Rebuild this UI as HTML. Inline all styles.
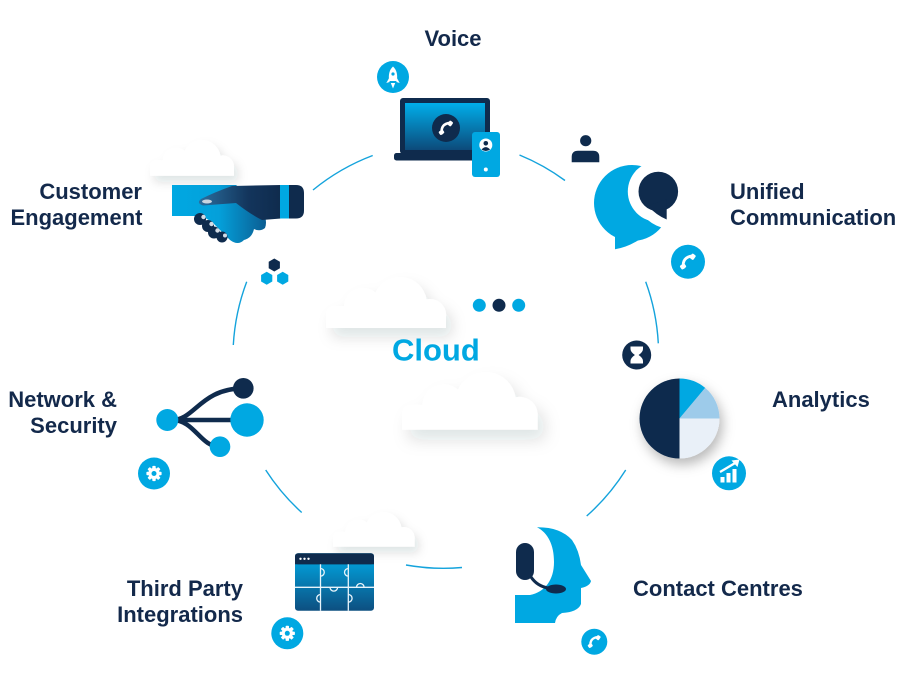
<!DOCTYPE html>
<html><head><meta charset="utf-8"><style>
html,body{margin:0;padding:0;background:#fff;}
svg{display:block;}
text{font-family:"Liberation Sans",Arial,sans-serif;font-weight:bold;}
</style></head><body>
<svg width="900" height="682" viewBox="0 0 900 682" xmlns="http://www.w3.org/2000/svg">
<defs>
 <filter id="sh" x="-40%" y="-40%" width="200%" height="220%"><feDropShadow dx="6" dy="9" stdDeviation="7" flood-color="#1a2a3a" flood-opacity="0.13"/></filter>
 <filter id="sh2" x="-40%" y="-40%" width="200%" height="200%"><feDropShadow dx="3" dy="6" stdDeviation="6" flood-color="#000" flood-opacity="0.28"/></filter>
 <linearGradient id="gScreen" x1="0" y1="0" x2="0" y2="1"><stop offset="0" stop-color="#00aeea"/><stop offset="1" stop-color="#0c4a7a"/></linearGradient>
 <linearGradient id="gPuz" x1="0" y1="0" x2="0" y2="1"><stop offset="0" stop-color="#00aae6"/><stop offset="1" stop-color="#0d4f80"/></linearGradient>
 <linearGradient id="gHandB" x1="0" y1="0" x2="1" y2="0"><stop offset="0" stop-color="#00a8e2"/><stop offset="0.5" stop-color="#04a0da"/><stop offset="1" stop-color="#0b5d92"/></linearGradient>
 <linearGradient id="gHandD" x1="0" y1="0" x2="1" y2="0"><stop offset="0" stop-color="#2a6e9e"/><stop offset="0.6" stop-color="#13355c"/><stop offset="1" stop-color="#0f2b4d"/></linearGradient>
 <path id="cloud" d="M0,51 L0,38 Q0,29 9,29 L18,29 A19,19 0 0 1 49.5,15.6 A27,27 0 0 1 100.6,22.4 A16,16 0 0 1 120,39.5 L120,51 Z"/>
 <g id="phone"><path d="M4,-5.2 Q-5.5,-4 -4.2,5.2" fill="none" stroke="#fff" stroke-width="2.6" stroke-linecap="round"/><rect x="2.2" y="-7" width="4.2" height="5" rx="1.2" fill="#fff" transform="rotate(35 4.3 -4.5)"/><rect x="-7" y="2.2" width="5" height="4.2" rx="1.2" fill="#fff" transform="rotate(-35 -4.5 4.3)"/></g>
 <g id="gear"><circle r="5.6" fill="#fff"/><rect x="-1.7" y="-7.6" width="3.4" height="15.2" rx="0.8" fill="#fff"/><rect x="-1.7" y="-7.6" width="3.4" height="15.2" rx="0.8" fill="#fff" transform="rotate(45)"/><rect x="-1.7" y="-7.6" width="3.4" height="15.2" rx="0.8" fill="#fff" transform="rotate(90)"/><rect x="-1.7" y="-7.6" width="3.4" height="15.2" rx="0.8" fill="#fff" transform="rotate(135)"/><circle r="2.5" fill="#00a8e2"/></g>
</defs>

<!-- ring arcs -->
<g fill="none" stroke="#14a3dc" stroke-width="1.4">
 <path d="M233.3,345 A212.5,212.5 0 0 1 246.7,281.7"/>
 <path d="M313,190 A212.5,212.5 0 0 1 372.7,155.5"/>
 <path d="M519.5,155 A212.5,212.5 0 0 1 565,180.5"/>
 <path d="M645.7,281.7 A212.5,212.5 0 0 1 658.3,343.3"/>
 <path d="M625.7,470 A212.5,212.5 0 0 1 586.7,516"/>
 <path d="M462,567.5 A212.5,212.5 0 0 1 406,565"/>
 <path d="M301.7,512.5 A212.5,212.5 0 0 1 265.7,470"/>
</g>

<!-- clouds -->
<g fill="#fff">
 <use href="#cloud" transform="translate(326,277)" filter="url(#sh)"/>
 <use href="#cloud" transform="translate(402,372) scale(1.13)" filter="url(#sh)"/>
 <use href="#cloud" transform="translate(150,140) scale(0.7)" filter="url(#sh)"/>
 <use href="#cloud" transform="translate(333,512) scale(0.68)" filter="url(#sh)"/>
</g>

<!-- center dots -->
<circle cx="479.3" cy="305.3" r="6.5" fill="#00a8e2"/>
<circle cx="499" cy="305.3" r="6.5" fill="#0f2b4d"/>
<circle cx="518.7" cy="305.3" r="6.5" fill="#00a8e2"/>
<text x="392" y="360.5" font-size="31" fill="#00a8e2">Cloud</text>

<!-- Voice -->
<circle cx="393" cy="77" r="16" fill="#00a8e2"/>
<path d="M393,66.5 C396.8,70 397.8,75 396.8,81 L389.2,81 C388.2,75 389.2,70 393,66.5 Z" fill="#fff"/>
<circle cx="393" cy="74" r="1.6" fill="#00a8e2"/>
<path d="M389.4,77.5 L386.3,83 L389.6,82 Z M396.6,77.5 L399.7,83 L396.4,82 Z M390.8,83 L395.2,83 L393,88.5 Z" fill="#fff"/>
<rect x="400" y="98" width="90" height="56" rx="3" fill="#0f2b4d"/>
<rect x="405" y="103" width="80" height="47" fill="url(#gScreen)"/>
<rect x="394" y="153" width="93" height="7.5" rx="2.5" fill="#0f2b4d"/>
<circle cx="446" cy="128" r="14" fill="#0f2b4d"/>
<use href="#phone" transform="translate(446,128)"/>
<rect x="472" y="132" width="28" height="45" rx="3" fill="#00a8e2"/>
<circle cx="485.8" cy="145" r="6.5" fill="#fff"/>
<circle cx="485.8" cy="143.3" r="2.3" fill="#0f2b4d"/>
<path d="M481.5,149.5 Q485.8,144.8 490.1,149.5 Q485.8,152.5 481.5,149.5 Z" fill="#0f2b4d"/>
<circle cx="485.8" cy="169.5" r="2" fill="#fff"/>
<text x="453" y="46" font-size="22" fill="#13294b" text-anchor="middle">Voice</text>

<!-- Unified Communication -->
<circle cx="585.7" cy="140.7" r="5.6" fill="#0f2b4d"/>
<path d="M571.7,162.3 L571.7,157 Q571.7,150.7 578,150.7 L593,150.7 Q599.3,150.7 599.3,157 L599.3,162.3 Z" fill="#0f2b4d"/>
<circle cx="632" cy="203" r="38" fill="#00a8e2"/>
<path d="M615,215 L615,249.3 Q636,246 656,226 L640,212 Z" fill="#00a8e2"/>
<circle cx="658.3" cy="191.5" r="30.5" fill="#fff"/>
<path d="M636,205 Q648,228 674,230 L678,198 Z" fill="#fff"/>
<circle cx="658.3" cy="191.5" r="19.8" fill="#0f2b4d"/>
<path d="M648,206 Q656,215 666.7,219.5 L666.7,199 Z" fill="#0f2b4d"/>
<circle cx="688" cy="261.7" r="17" fill="#00a8e2"/>
<use href="#phone" transform="translate(688,261.7) scale(1.1)"/>
<text x="730" y="199" font-size="22" fill="#13294b">Unified</text>
<text x="730" y="225" font-size="22" fill="#13294b">Communication</text>

<!-- Customer Engagement -->
<path d="M172,185 L236,185 Q250,195 262,210 Q268,220 265,228 Q260,232 254,229 Q252,238 244,240 Q238,246 230,240 L214,224 Q205,216 196,216 L172,216 Z" fill="url(#gHandB)"/>
<path d="M281,185 L232,186 Q215,192 201,199 Q196,203 203,205.5 L236,203 Q250,214 262,220 L281,218.5 Z" fill="url(#gHandD)"/>
<ellipse cx="207" cy="201.5" rx="5" ry="2" fill="#c9d4df"/>
<g fill="#0f2b4d">
 <circle cx="200" cy="219" r="6"/><circle cx="208" cy="226" r="6"/><circle cx="214" cy="232.5" r="6"/><circle cx="222" cy="237" r="5.5"/>
</g>
<g fill="#d3dce6">
 <circle cx="203.5" cy="217" r="2.2"/><circle cx="211.5" cy="224" r="2.2"/><circle cx="217.5" cy="230.5" r="2.2"/><circle cx="225" cy="235.5" r="2"/>
</g>
<rect x="280" y="185" width="9" height="33.5" fill="#00a8e2"/>
<path d="M289,185 L296,185 Q304,185 304,193 L304,210.5 Q304,218.5 296,218.5 L289,218.5 Z" fill="#0f2b4d"/>
<polygon points="274.3,258.5 279.9,261.75 279.9,268.25 274.3,271.5 268.7,268.25 268.7,261.75" fill="#0f2b4d"/>
<polygon points="266.7,271.8 272.3,275.05 272.3,281.55 266.7,284.8 261.1,281.55 261.1,275.05" fill="#00a8e2"/>
<polygon points="282.7,271.8 288.3,275.05 288.3,281.55 282.7,284.8 277.1,281.55 277.1,275.05" fill="#00a8e2"/>
<text x="142" y="199" font-size="22" fill="#13294b" text-anchor="end">Customer</text>
<text x="142.5" y="225" font-size="22" fill="#13294b" text-anchor="end">Engagement</text>

<!-- Network & Security -->
<g fill="none" stroke="#0f2b4d" stroke-width="4.5">
 <path d="M170,420 L240,420"/>
 <path d="M172,420 C195,420 200,389 243,388.3"/>
 <path d="M172,420 C195,420 200,447 220,446.7"/>
</g>
<circle cx="167.3" cy="420" r="11" fill="#00a8e2"/>
<circle cx="243.3" cy="388.3" r="10.3" fill="#0f2b4d"/>
<circle cx="247" cy="420" r="16.7" fill="#00a8e2"/>
<circle cx="220" cy="446.7" r="10.3" fill="#00a8e2"/>
<circle cx="154" cy="473.5" r="16" fill="#00a8e2"/>
<use href="#gear" transform="translate(154,473.5)"/>
<text x="117" y="407" font-size="22" fill="#13294b" text-anchor="end">Network &amp;</text>
<text x="117" y="433" font-size="22" fill="#13294b" text-anchor="end">Security</text>

<!-- Third Party Integrations -->
<rect x="295" y="553.3" width="79" height="57.5" rx="3" fill="url(#gPuz)"/>
<rect x="295" y="553.3" width="79" height="11" rx="3" fill="#0f2b4d"/>
<rect x="295" y="558" width="79" height="6.3" fill="#0f2b4d"/>
<g fill="#fff"><circle cx="300.5" cy="558.8" r="1.2"/><circle cx="304.5" cy="558.8" r="1.2"/><circle cx="308.5" cy="558.8" r="1.2"/></g>
<g fill="none" stroke="#e8f4fb" stroke-width="1.3">
 <path d="M320.5,564.3 V610.8 M348.3,564.3 V610.8 M295,587.3 H374"/>
 <path d="M320.5,568.5 a3.8,3.8 0 0 1 0,7.6"/>
 <path d="M348.3,568.5 a3.8,3.8 0 0 0 0,7.6"/>
 <path d="M356.5,587.3 a3.8,3.8 0 0 1 7.6,0"/>
 <path d="M330,587.3 a3.8,3.8 0 0 0 7.6,0"/>
 <path d="M320.5,594.5 a3.8,3.8 0 0 0 0,7.6"/>
 <path d="M348.3,594.5 a3.8,3.8 0 0 1 0,7.6"/>
</g>
<circle cx="287.3" cy="633.3" r="16" fill="#00a8e2"/>
<use href="#gear" transform="translate(287.3,633.3)"/>
<text x="243" y="596" font-size="22" fill="#13294b" text-anchor="end">Third Party</text>
<text x="243" y="622" font-size="22" fill="#13294b" text-anchor="end">Integrations</text>

<!-- Contact Centres -->
<path d="M537,527.3 Q560,527 572,540 Q579,550 581,565 L591,581 Q590,586 581,588 L581,604 Q578,612 562,613 Q556,616 555,623 L515,623 L515,595 L530,595 C545,592 554,580 554,562 C554,545 548,533 537,527.3 Z" fill="#00a8e2"/>
<rect x="516" y="543" width="18" height="37" rx="9" fill="#0f2b4d"/>
<path d="M531,577 Q537,586 548,588" fill="none" stroke="#0f2b4d" stroke-width="3"/>
<ellipse cx="556" cy="589" rx="10" ry="4.5" fill="#0f2b4d"/>
<circle cx="594.3" cy="641.7" r="13" fill="#00a8e2"/>
<use href="#phone" transform="translate(594.3,641.7) scale(0.9)"/>
<text x="633" y="596" font-size="22" fill="#13294b">Contact Centres</text>

<!-- Analytics -->
<circle cx="636.7" cy="355" r="14.5" fill="#0f2b4d"/>
<path d="M630.5,346.5 H643 V349 Q643,352 638.6,355 Q643,358 643,361 V363.5 H630.5 V361 Q630.5,358 634.9,355 Q630.5,352 630.5,349 Z" fill="#fff"/>
<g filter="url(#sh2)">
 <path d="M679.5,378.5 A40,40 0 0 0 679.5,458.5 Z" fill="#0f2b4d"/>
 <path d="M679.5,418.5 L679.5,378.5 A40,40 0 0 1 705.2,387.9 Z" fill="#00a8e2"/>
 <path d="M679.5,418.5 L705.2,387.9 A40,40 0 0 1 719.5,418.5 Z" fill="#9dcbea"/>
 <path d="M679.5,418.5 L719.5,418.5 A40,40 0 0 1 679.5,458.5 Z" fill="#e9f0f8"/>
</g>
<circle cx="729" cy="473.3" r="17" fill="#00a8e2"/>
<g fill="#fff">
 <rect x="720.5" y="477" width="4" height="5.5"/><rect x="726.5" y="473" width="4" height="9.5"/><rect x="732.5" y="469" width="4" height="13.5"/>
 <polygon points="731.5,460.5 739.5,459.5 737.5,467"/>
</g>
<path d="M720,472 L736,462.5" stroke="#fff" stroke-width="2.2" fill="none"/>
<text x="772" y="407" font-size="22" fill="#13294b">Analytics</text>
</svg>
</body></html>
